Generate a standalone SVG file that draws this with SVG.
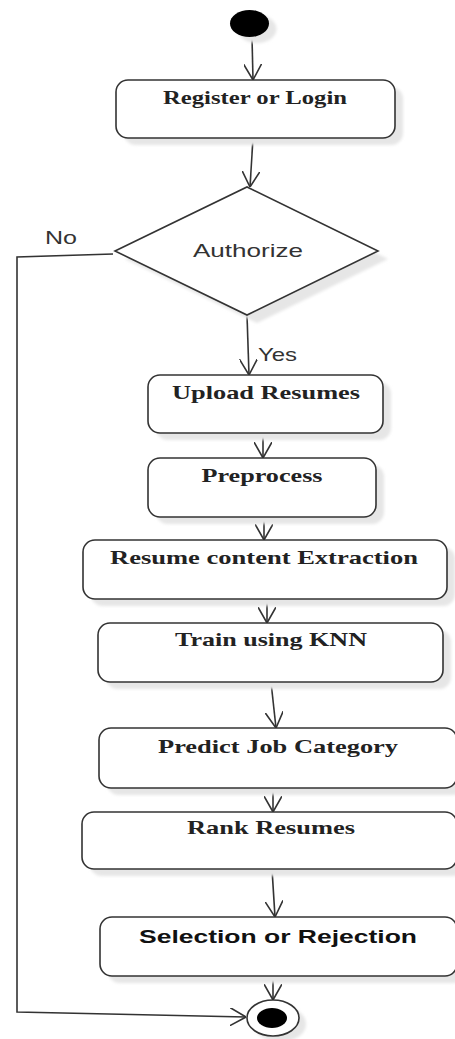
<svg xmlns="http://www.w3.org/2000/svg" width="455" height="1039" viewBox="0 0 455 1039">
<style>
.box{fill:#ffffff;stroke:#333333;stroke-width:1.6}
.shadow{fill:#e6e6e6;filter:url(#blur)}
.edge{fill:none;stroke:#333333;stroke-width:1.6}
.ts{font-family:"Liberation Serif","Times New Roman",serif;font-weight:bold;font-size:19px;fill:#222222;text-anchor:middle}
.tb{font-family:"Liberation Sans",Arial,sans-serif;font-weight:bold;font-size:19px;fill:#111111;text-anchor:middle}
.tl{font-family:"Liberation Sans",Arial,sans-serif;font-size:18.5px;fill:#333333}
</style>
<defs>
<filter id="blur" x="-10%" y="-10%" width="120%" height="130%"><feGaussianBlur stdDeviation="1.5"/></filter>
<marker id="arr" markerUnits="userSpaceOnUse" viewBox="0 0 16 18" markerWidth="16" markerHeight="18" refX="16" refY="9" orient="auto">
<path d="M0,0 L16,9 L0,18" fill="none" stroke="#333333" stroke-width="1.6"/>
</marker>
</defs>

<g id="connectors">
<path class="edge" d="M252,37 L253,80" marker-end="url(#arr)"/>
<path class="edge" d="M253,138 L250,187" marker-end="url(#arr)"/>
<path class="edge" d="M247,315 L249,375" marker-end="url(#arr)"/>
<path class="edge" d="M113,254 L17,257 L17,1012 L246,1017" marker-end="url(#arr)"/>
<path class="edge" d="M263,433 L263,458" marker-end="url(#arr)"/>
<path class="edge" d="M264,517 L264,540" marker-end="url(#arr)"/>
<path class="edge" d="M267,599 L267,623" marker-end="url(#arr)"/>
<path class="edge" d="M271,682 L276,728" marker-end="url(#arr)"/>
<path class="edge" d="M273,788 L273,812" marker-end="url(#arr)"/>
<path class="edge" d="M272,869 L275,917" marker-end="url(#arr)"/>
<path class="edge" d="M273,976 L273,1000" marker-end="url(#arr)"/>
<text class="tl" x="45" y="244" textLength="32" lengthAdjust="spacingAndGlyphs">No</text>
<text class="tl" x="258" y="361" textLength="39" lengthAdjust="spacingAndGlyphs">Yes</text>
</g>

<g id="start">
<ellipse class="shadow" cx="257" cy="29" rx="19.5" ry="14"/>
<ellipse cx="249.5" cy="23.5" rx="19.5" ry="13.5" fill="#000000"/>
</g>

<g id="register">
<rect class="shadow" x="124" y="87" width="279" height="58" rx="12"/>
<rect class="box" x="116" y="80" width="279" height="58" rx="12"/>
<text class="ts" x="255" y="103.5" textLength="184" lengthAdjust="spacingAndGlyphs">Register or Login</text>
</g>

<g id="authorize">
<polygon class="shadow" points="125,259 257,195 388,259 257,323"/>
<polygon class="box" points="115,251 247,187 378,251 247,315"/>
<text class="tl" x="248" y="256.5" text-anchor="middle" textLength="110" lengthAdjust="spacingAndGlyphs">Authorize</text>
</g>

<g id="upload">
<rect class="shadow" x="156" y="382" width="235" height="58" rx="12"/>
<rect class="box" x="148" y="375" width="235" height="58" rx="12"/>
<text class="ts" x="266" y="398.5" textLength="188" lengthAdjust="spacingAndGlyphs">Upload Resumes</text>
</g>

<g id="preprocess">
<rect class="shadow" x="156" y="465" width="228" height="59" rx="12"/>
<rect class="box" x="148" y="458" width="228" height="59" rx="12"/>
<text class="ts" x="262" y="481.5" textLength="121" lengthAdjust="spacingAndGlyphs">Preprocess</text>
</g>

<g id="extraction">
<rect class="shadow" x="91" y="547" width="364" height="59" rx="12"/>
<rect class="box" x="83" y="540" width="364" height="59" rx="12"/>
<text class="ts" x="264" y="564" textLength="308" lengthAdjust="spacingAndGlyphs">Resume content Extraction</text>
</g>

<g id="train">
<rect class="shadow" x="106" y="630" width="345" height="59" rx="12"/>
<rect class="box" x="98" y="623" width="345" height="59" rx="12"/>
<text class="ts" x="271" y="646" textLength="192" lengthAdjust="spacingAndGlyphs">Train using KNN</text>
</g>

<g id="predict">
<rect class="shadow" x="107" y="735" width="358" height="60" rx="12"/>
<rect class="box" x="99" y="728" width="358" height="60" rx="12"/>
<text class="ts" x="278" y="753" textLength="240" lengthAdjust="spacingAndGlyphs">Predict Job Category</text>
</g>

<g id="rank">
<rect class="shadow" x="90" y="819" width="375" height="57" rx="12"/>
<rect class="box" x="82" y="812" width="375" height="57" rx="12"/>
<text class="ts" x="271" y="834" textLength="168" lengthAdjust="spacingAndGlyphs">Rank Resumes</text>
</g>

<g id="selection">
<rect class="shadow" x="108" y="924" width="357" height="59" rx="12"/>
<rect class="box" x="100" y="917" width="357" height="59" rx="12"/>
<text class="tb" x="278" y="942.5" textLength="278" lengthAdjust="spacingAndGlyphs">Selection or Rejection</text>
</g>

<g id="end">
<ellipse class="shadow" cx="280" cy="1024" rx="26" ry="18"/>
<ellipse cx="273" cy="1018" rx="26" ry="18" fill="#ffffff" stroke="#333333" stroke-width="1.6"/>
<ellipse cx="272" cy="1018" rx="15" ry="10" fill="#000000"/>
</g>
</svg>
